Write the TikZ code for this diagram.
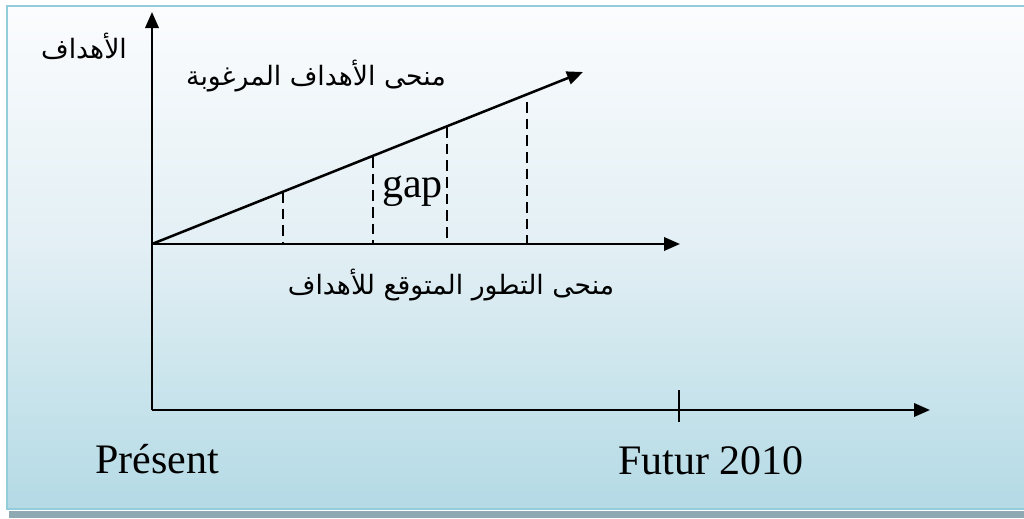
\documentclass[tikz,border=0pt]{standalone}
\usepackage{fontspec}
\setmainfont{Liberation Serif}
\newfontfamily\arabicfont[Script=Arabic]{DejaVu Sans}
\TeXXeTstate=1
\usetikzlibrary{arrows.meta}
\definecolor{frameblue}{RGB}{147,205,219}
\definecolor{shadowgray}{RGB}{142,169,177}
\definecolor{bgtop}{RGB}{251,252,254}
\definecolor{bgmid}{RGB}{226,239,244}
\definecolor{bgbot}{RGB}{180,218,229}
\begin{document}
\begin{tikzpicture}[x=0.75pt,y=-0.75pt,
  axis/.style={line width=1.9pt,-{Triangle[length=12pt,width=10pt]}},
  guide/.style={line width=1.3pt,dash pattern=on 8pt off 4.5pt},
  latin/.style={inner sep=0pt,anchor=base west,font=\fontsize{31.5}{36}\selectfont},
  arab/.style={inner sep=0pt,font=\arabicfont\fontsize{20}{24}\selectfont}]
\useasboundingbox (0,0) rectangle (1024,518);
% shadow and background
\fill[shadowgray] (9,511) rectangle (1030,518);
\shade[top color=bgtop,bottom color=bgmid] (7,6) rectangle (1030,250);
\shade[top color=bgmid,bottom color=bgbot] (7,249.5) rectangle (1030,509);
\draw[frameblue,line width=1.8pt] (1030,6) -- (7,6) -- (7,509) -- (1030,509);
% coordinates
\coordinate (O) at (152,410);
\coordinate (ytip) at (152,12);
\coordinate (xtip) at (930,410);
\coordinate (M) at (152,244);
\coordinate (mtip) at (680,244);
\coordinate (dtip) at (583,72);
\coordinate (tickT) at (679,390);
\coordinate (tickB) at (679,422);
\coordinate (d1t) at (283,192);
\coordinate (d1b) at (283,244);
\coordinate (d2t) at (373,157);
\coordinate (d2b) at (373,244);
\coordinate (d3t) at (447,127);
\coordinate (d3b) at (447,244);
\coordinate (d4t) at (527,102);
\coordinate (d4b) at (527,244);
% axes
\draw[axis] (O) -- (ytip);
\draw[axis] (O) -- (xtip);
\draw[axis] (M) -- (mtip);
\draw[axis] (M) -- (dtip);
\draw[line width=1.3pt] (tickT) -- (tickB);
% dashed gaps
\draw[guide] (d1t) -- (d1b);
\draw[guide] (d2t) -- (d2b);
\draw[guide] (d3t) -- (d3b);
\draw[guide] (d4t) -- (d4b);
% labels
\node[arab] (ylab) at (84,46) {\beginR الأهداف\endR};
\node[arab] (desired) at (316,76) {\beginR منحى الأهداف المرغوبة\endR};
\node[arab] (expected) at (451,285) {\beginR منحى التطور المتوقع للأهداف\endR};
\node[latin] (gap) at (382,197) {gap};
\node[latin] (present) at (95,473) {Présent};
\node[latin] (futur) at (618,474) {Futur 2010};
\end{tikzpicture}
\end{document}
